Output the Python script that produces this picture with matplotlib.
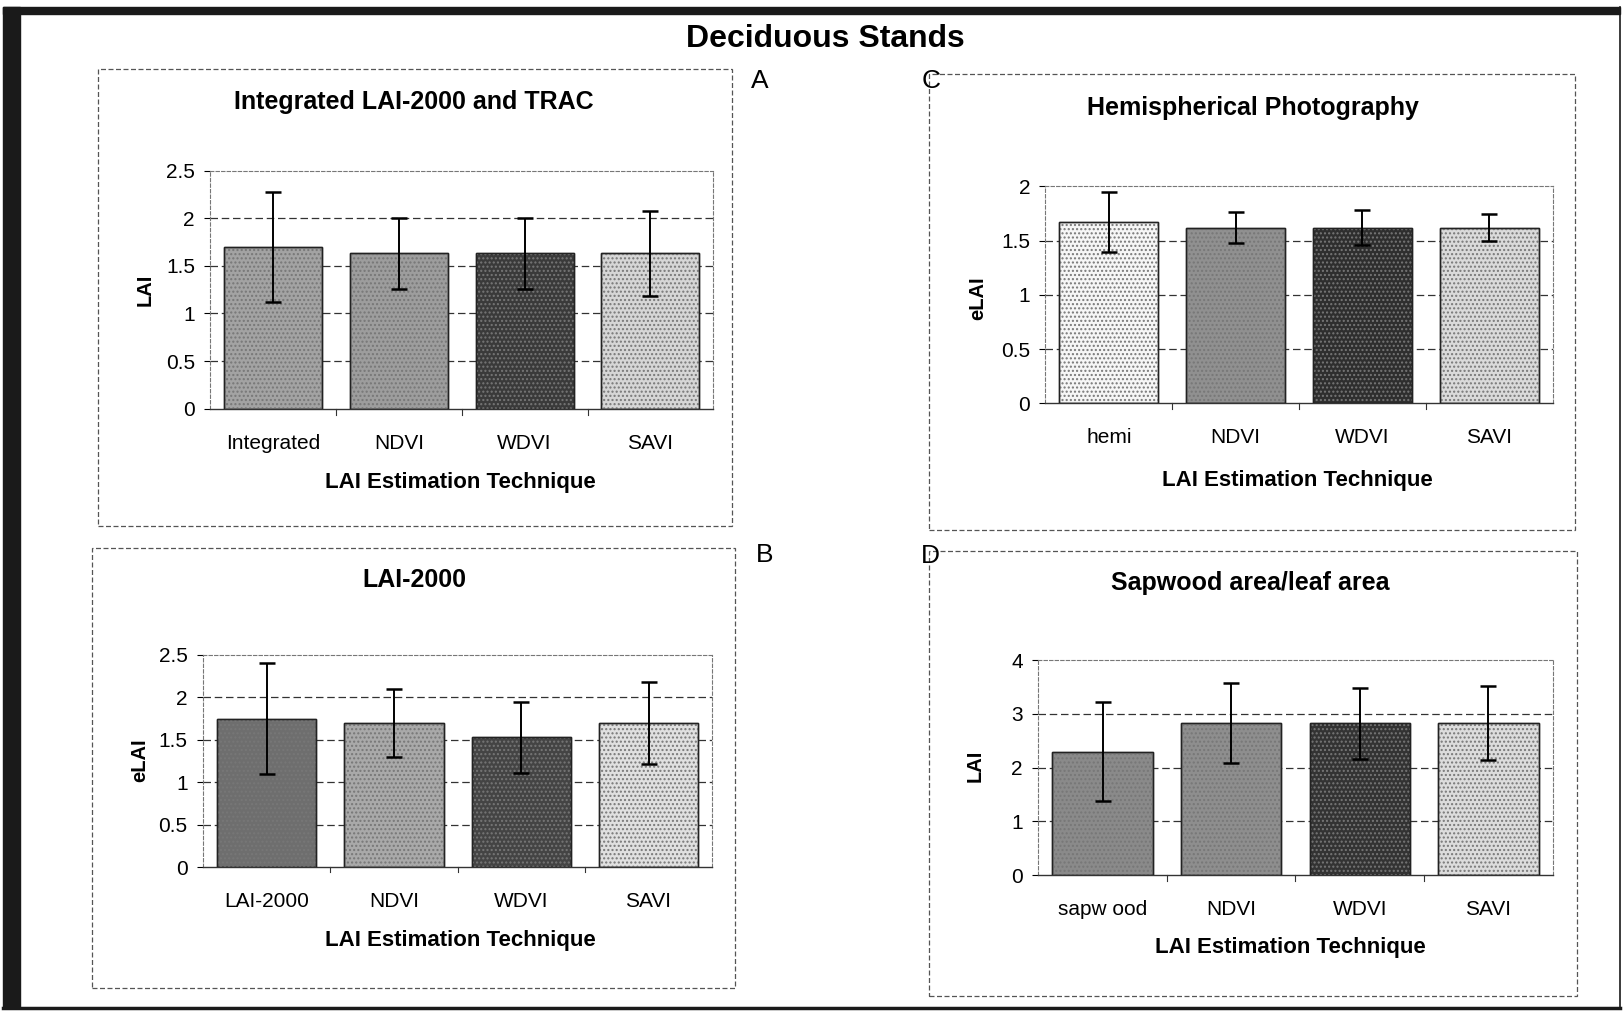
import matplotlib
matplotlib.use("Agg")
import matplotlib.pyplot as plt
from matplotlib.patches import Rectangle
from matplotlib.lines import Line2D

plt.rcParams["font.family"] = ["Liberation Sans", "DejaVu Sans"]

# ── Data ─────────────────────────────────────────────────────────────────────
OTHER_METHODS = ["NDVI", "WDVI", "SAVI"]

a_labels = ["Integrated"] + OTHER_METHODS
a_values = [1.70, 1.63, 1.63, 1.63]
a_errors = [0.58, 0.37, 0.37, 0.45]

b_labels = ["LAI-2000"] + OTHER_METHODS
b_values = [1.75, 1.70, 1.53, 1.70]
b_errors = [0.65, 0.40, 0.42, 0.48]

c_labels = ["hemi"] + OTHER_METHODS
c_values = [1.67, 1.62, 1.62, 1.62]
c_errors = [0.28, 0.14, 0.16, 0.12]

d_labels = ["sapw ood"] + OTHER_METHODS
d_values = [2.30, 2.83, 2.83, 2.83]
d_errors = [0.92, 0.74, 0.66, 0.68]

# ── Styling per panel ────────────────────────────────────────────────────────
PANELS = [
    dict(key="A", title="Integrated LAI-2000 and TRAC", ylabel="LAI",
         labels=a_labels, values=a_values, errors=a_errors, ymax=2.5, ystep=0.5,
         colors=["#a3a3a3", "#9d9d9d", "#3a3a3a", "#d6d6d6"],
         axes=[0.1295, 0.5978, 0.310, 0.2342],
         box=[0.0606, 0.4827, 0.4509, 0.9318], letter=(0.4624, 0.9206),
         title_xy=(0.2551, 0.8992), ylabel_xy=(0.0893, 0.7149),
         xlabel_xy=(0.2838, 0.5255)),
    dict(key="C", title="Hemispherical Photography", ylabel="eLAI",
         labels=c_labels, values=c_values, errors=c_errors, ymax=2.0, ystep=0.5,
         colors=["#f6f6f6", "#909090", "#2e2e2e", "#dadada"],
         axes=[0.6441, 0.6029, 0.3125, 0.2138],
         box=[0.5727, 0.4786, 0.9707, 0.9267], letter=(0.5676, 0.9206),
         title_xy=(0.7717, 0.8941), ylabel_xy=(0.6027, 0.7067),
         xlabel_xy=(0.7991, 0.5275)),
    dict(key="B", title="LAI-2000", ylabel="eLAI",
         labels=b_labels, values=b_values, errors=b_errors, ymax=2.5, ystep=0.5,
         colors=["#6e6e6e", "#a9a9a9", "#444444", "#e0e0e0"],
         axes=[0.125, 0.1466, 0.3138, 0.2088],
         box=[0.0568, 0.0275, 0.4528, 0.4603], letter=(0.4656, 0.4542),
         title_xy=(0.2551, 0.4287), ylabel_xy=(0.0861, 0.2515),
         xlabel_xy=(0.2838, 0.0743)),
    dict(key="D", title="Sapwood area/leaf area", ylabel="LAI",
         labels=d_labels, values=d_values, errors=d_errors, ymax=4.0, ystep=1.0,
         colors=["#8a8a8a", "#8e8e8e", "#333333", "#dcdcdc"],
         axes=[0.6397, 0.1385, 0.317, 0.2118],
         box=[0.5727, 0.0193, 0.9719, 0.4572], letter=(0.5676, 0.4532),
         title_xy=(0.7704, 0.4257), ylabel_xy=(0.6008, 0.2464),
         xlabel_xy=(0.7953, 0.0672)),
]


def fmt_tick(v):
    return f"{v:g}"


def draw_panel(fig, p):
    # dashed frame around the whole chart object
    x0, y0, x1, y1 = p["box"]
    fig.add_artist(Rectangle((x0, y0), x1 - x0, y1 - y0, transform=fig.transFigure,
                             fill=False, edgecolor="#555555", linewidth=0.9,
                             linestyle=(0, (4, 2))))
    fig.text(*p["letter"], p["key"], fontsize=19, ha="left", va="center")
    fig.text(*p["title_xy"], p["title"], fontsize=18, fontweight="bold",
             ha="center", va="center")
    fig.text(*p["ylabel_xy"], p["ylabel"], fontsize=14.5, fontweight="bold",
             rotation=90, ha="center", va="center")
    fig.text(*p["xlabel_xy"], "LAI Estimation Technique", fontsize=16,
             fontweight="bold", ha="center", va="center")

    ax = fig.add_axes(p["axes"])
    x = range(len(p["labels"]))

    ax.bar(x, p["values"], width=0.78, color=p["colors"], edgecolor="#222222",
           linewidth=1.0, zorder=2)
    # stipple texture of the scanned bars
    ax.bar(x, p["values"], width=0.78, color="none", edgecolor="#777777",
           hatch="....", linewidth=0, zorder=3)
    ax.bar(x, p["values"], width=0.78, color="none", edgecolor="#222222",
           linewidth=1.0, zorder=4)
    ax.errorbar(x, p["values"], yerr=p["errors"], fmt="none", ecolor="black",
                elinewidth=1.4, capsize=6, capthick=1.8, zorder=5)

    ax.set_xlim(-0.5, len(p["labels"]) - 0.5)
    ax.set_ylim(0, p["ymax"])
    yt = []
    v = 0.0
    while v <= p["ymax"] + 1e-9:
        yt.append(round(v, 2))
        v += p["ystep"]
    ax.set_yticks(yt)
    ax.set_yticklabels([fmt_tick(t) for t in yt], fontsize=15)
    ax.set_xticks(list(x))
    ax.set_xticklabels(p["labels"], fontsize=15)
    ax.tick_params(axis="x", length=0, pad=18)
    ax.tick_params(axis="y", length=4, width=0.8, pad=7, direction="out")

    # category separators on the x axis
    for b in [0.5, 1.5, 2.5]:
        ax.plot([b, b], [0, -0.025], transform=ax.get_xaxis_transform(),
                color="#333333", linewidth=0.8, clip_on=False)

    for g in yt[1:-1]:
        ax.axhline(g, color="#333333", linewidth=0.9, linestyle=(0, (6, 3)),
                   zorder=1)

    for side in ["top", "right", "left"]:
        ax.spines[side].set_color("#777777")
        ax.spines[side].set_linewidth(0.8)
        ax.spines[side].set_linestyle((0, (3, 2)))
    ax.spines["bottom"].set_color("#333333")
    ax.spines["bottom"].set_linewidth(1.0)
    ax.set_facecolor("white")


def main():
    fig = plt.figure(figsize=(16.23, 10.16), dpi=100)

    # scanned page frame
    fig.add_artist(Rectangle((0.002, 0.0079), 0.0105, 0.9851,
                             transform=fig.transFigure, color="#1a1a1a"))
    fig.add_artist(Rectangle((0.002, 0.986), 0.996, 0.007,
                             transform=fig.transFigure, color="#1a1a1a"))
    fig.add_artist(Line2D([0.002, 0.998], [0.0079, 0.0079],
                          transform=fig.transFigure, color="#1a1a1a", linewidth=2.5))
    fig.add_artist(Line2D([0.998, 0.998], [0.0079, 0.993],
                          transform=fig.transFigure, color="#1a1a1a", linewidth=1.2))

    fig.text(0.5083, 0.9613, "Deciduous Stands", fontsize=23, fontweight="bold",
             ha="center", va="center")

    for p in PANELS:
        draw_panel(fig, p)

    fig.savefig("out.png", dpi=100)


if __name__ == "__main__":
    main()
